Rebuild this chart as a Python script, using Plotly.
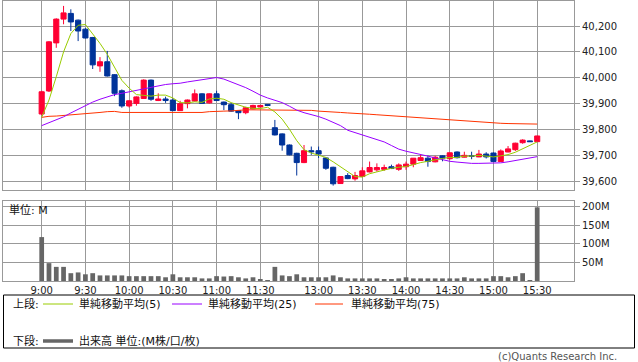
import plotly.graph_objects as go

# ---------------- data ----------------
times = [
    "9:00", "9:05", "9:10", "9:15", "9:20", "9:25", "9:30", "9:35", "9:40", "9:45",
    "9:50", "9:55", "10:00", "10:05", "10:10", "10:15", "10:20", "10:25", "10:30", "10:35",
    "10:40", "10:45", "10:50", "10:55", "11:00", "11:05", "11:10", "11:15", "11:20", "11:25",
    "11:30", "12:00",
    "12:30", "12:35", "12:40", "12:45", "12:50", "12:55", "13:00", "13:05", "13:10", "13:15",
    "13:20", "13:25", "13:30", "13:35", "13:40", "13:45", "13:50", "13:55", "14:00", "14:05",
    "14:10", "14:15", "14:20", "14:25", "14:30", "14:35", "14:40", "14:45", "14:50", "14:55",
    "15:00", "15:05", "15:10", "15:15", "15:20", "15:25", "15:30",
]

opens = [39860, 39949, 40135, 40227, 40249, 40223, 40188, 40156, 40046, 40062,
         40012, 39950, 39891, 39901, 39920, 39991, 39912, 39918, 39914, 39873,
         39900, 39910, 39938, 39903, 39938, 39906, 39896, 39873, 39865, 39880,
         39887, 39897,
         39807, 39783, 39740, 39708, 39672, 39718, 39718, 39690, 39654, 39591,
         39622, 39609, 39618, 39636, 39644, 39646, 39656, 39646, 39656, 39666,
         39680, 39689, 39675, 39698, 39687, 39713, 39693, 39698, 39694, 39705,
         39709, 39676, 39713, 39722, 39749, 39756, 39753]
highs = [39950, 40142, 40230, 40278, 40265, 40225, 40192, 40158, 40080, 40104,
         40014, 39955, 39913, 39928, 39994, 39993, 39940, 39927, 39920, 39911,
         39916, 39955, 39940, 39940, 39950, 39908, 39903, 39875, 39888, 39896,
         39895, 39898,
         39837, 39785, 39742, 39710, 39740, 39734, 39734, 39692, 39656, 39620,
         39631, 39636, 39654, 39676, 39669, 39664, 39664, 39669, 39676, 39689,
         39702, 39699, 39698, 39700, 39710, 39715, 39714, 39714, 39721, 39712,
         39711, 39723, 39736, 39749, 39762, 39757, 39776]
lows = [39855, 39945, 40116, 40207, 40181, 40142, 40152, 40034, 40023, 40005,
        39929, 39884, 39885, 39892, 39918, 39911, 39910, 39903, 39872, 39872,
        39882, 39908, 39899, 39900, 39910, 39875, 39869, 39840, 39859, 39878,
        39886, 39892,
        39777, 39718, 39700, 39622, 39670, 39702, 39690, 39644, 39583, 39590,
        39608, 39602, 39616, 39634, 39637, 39640, 39647, 39640, 39644, 39654,
        39679, 39656, 39673, 39677, 39683, 39688, 39692, 39685, 39693, 39688,
        39676, 39675, 39712, 39717, 39745, 39752, 39752]
closes = [39946, 40139, 40227, 40251, 40216, 40181, 40154, 40050, 40062, 40007,
          39940, 39891, 39911, 39926, 39991, 39917, 39918, 39912, 39873, 39900,
          39914, 39938, 39901, 39938, 39912, 39896, 39871, 39865, 39884, 39893,
          39893, 39893,
          39779, 39740, 39702, 39672, 39718, 39714, 39705, 39650, 39590, 39618,
          39610, 39622, 39640, 39653, 39653, 39653, 39649, 39663, 39666, 39689,
          39691, 39676, 39693, 39689, 39710, 39691, 39700, 39696, 39705, 39694,
          39676, 39717, 39725, 39747, 39759, 39753, 39775]

ma5 = [39847, 39914, 40004, 40100, 40171, 40203, 40206, 40170, 40133, 40091,
       40043, 39990, 39960, 39935, 39932, 39929, 39933, 39933, 39922, 39904,
       39903, 39907, 39905, 39918, 39921, 39917, 39904, 39896, 39886, 39882,
       39881, 39886,
       39868, 39840, 39801, 39757, 39722, 39709, 39702, 39692, 39675, 39655,
       39635, 39618, 39616, 39629, 39636, 39644, 39650, 39654, 39657, 39664,
       39672, 39677, 39683, 39688, 39692, 39692, 39697, 39697, 39700, 39697,
       39694, 39698, 39703, 39712, 39725, 39740, 39752]
ma25 = [39815, 39826, 39838, 39849, 39864, 39878, 39893, 39906, 39917, 39927,
        39935, 39940, 39945, 39950, 39957, 39963, 39969, 39974, 39977, 39979,
        39984, 39988, 39991, 39996, 40001, 39995, 39985, 39974, 39962, 39948,
        39933, 39922,
        39912, 39904, 39890, 39875, 39865, 39858, 39850, 39840, 39827, 39815,
        39797, 39788, 39780, 39771, 39762, 39752, 39738, 39724, 39716, 39710,
        39705, 39697, 39690, 39683, 39677, 39674, 39671, 39669, 39669, 39669,
        39669, 39671, 39675, 39680, 39686, 39691, 39695]
ma75 = [39847, 39851, 39852, 39854, 39856, 39858, 39860, 39864, 39866, 39869,
        39870, 39866, 39866, 39866, 39866, 39866, 39866, 39866, 39866, 39866,
        39866, 39866, 39866, 39869, 39871, 39871, 39872, 39875, 39876, 39876,
        39876, 39876,
        39876, 39876, 39876, 39874, 39874, 39874, 39871, 39870, 39867, 39866,
        39864, 39863, 39861, 39859, 39857, 39855, 39853, 39851, 39849, 39847,
        39845, 39842, 39841, 39839, 39836, 39834, 39832, 39831, 39829, 39827,
        39825, 39824, 39823, 39822, 39821, 39821, 39821]

volume_m = [118, 48, 38, 38, 21, 23, 18, 21, 15, 15,
            15, 15, 13, 13, 13, 13, 13, 10, 18, 10,
            10, 10, 7, 7, 13, 12, 13, 10, 7, 10,
            4, 0.5,
            38, 15, 13, 18, 10, 10, 10, 10, 15, 10,
            7, 7, 7, 7, 7, 4, 4, 7, 10, 7,
            7, 7, 7, 7, 7, 7, 10, 7, 7, 7,
            13, 13, 10, 13, 21, 1, 198]

tick_times = ["9:00", "9:30", "10:00", "10:30", "11:00", "11:30",
              "13:00", "13:30", "14:00", "14:30", "15:00", "15:30"]
price_ticks = [39600, 39700, 39800, 39900, 40000, 40100, 40200]
vol_ticks = [50, 100, 150, 200]
vol_tick_text = ["50M", "100M", "150M", "200M"]

legend_labels = ["単純移動平均(5)", "単純移動平均(25)", "単純移動平均(75)"]

# ---------------- style ----------------
RED = "#ff0033"
BLUE = "#003399"
C5, C25, C75 = "#99cc00", "#9900ff", "#ff3300"
VOLC = "#666666"
GRID = "#999999"
FONT = "DejaVu Sans, Noto Sans CJK JP"

W, H = 638, 362
L, R, T, B = 3, 64, 1, 81


def px(x):
    return (x - L) / (W - L - R)


def py(y):
    return (H - B - y) / (H - T - B)


fig = go.Figure()
fig.add_trace(go.Candlestick(
    x=times, open=opens, high=highs, low=lows, close=closes,
    increasing=dict(line=dict(color=RED, width=1), fillcolor=RED),
    decreasing=dict(line=dict(color=BLUE, width=1), fillcolor=BLUE),
    xaxis="x", yaxis="y", showlegend=False))
for vals, col in ((ma75, C75), (ma25, C25), (ma5, C5)):
    fig.add_trace(go.Scatter(x=times, y=vals, mode="lines",
                             line=dict(color=col, width=1),
                             xaxis="x", yaxis="y", showlegend=False))
fig.add_trace(go.Bar(x=times, y=volume_m, width=0.65,
                     marker=dict(color=VOLC, line=dict(width=0)),
                     xaxis="x2", yaxis="y2", showlegend=False))

xr = [-5.31, 73.05]
axis_common = dict(showgrid=True, gridcolor=GRID, gridwidth=1,
                   showline=True, mirror=True, linecolor=GRID, linewidth=1,
                   zeroline=False)
fig.update_layout(
    width=W, height=H,
    margin=dict(l=L, r=R, t=T, b=B, pad=0),
    paper_bgcolor="white", plot_bgcolor="white",
    font=dict(family=FONT, size=10, color="#222222"),
    showlegend=False,
    boxgap=0.3, boxgroupgap=0,
    xaxis=dict(domain=[0, 1], anchor="y", type="category", range=xr,
               tickvals=tick_times, showticklabels=False, ticks="",
               rangeslider=dict(visible=False), **axis_common),
    yaxis=dict(domain=[py(190), 1], anchor="x", range=[39566, 40297],
               side="right", tickvals=price_ticks, tickformat=",",
               ticks="outside", ticklen=5, tickcolor=GRID,
               tickfont=dict(size=10), **axis_common),
    xaxis2=dict(domain=[0, 1], anchor="y2", type="category", matches="x",
                range=xr, tickvals=tick_times, ticktext=tick_times, ticks="",
                tickfont=dict(size=10), **axis_common),
    yaxis2=dict(domain=[0, py(201)], anchor="x2", range=[0, 215],
                side="right", tickvals=vol_ticks, ticktext=vol_tick_text,
                ticks="outside", ticklen=5, tickcolor=GRID,
                tickfont=dict(size=10), **axis_common),
)

shapes = [
    dict(type="rect", xref="paper", yref="paper", x0=px(3.5), x1=px(634.5),
         y0=py(295), y1=py(348), line=dict(color="black", width=1)),
]
for (xa, xb), col in (((43, 73), C5), ((172, 202), C25), ((315, 343), C75)):
    shapes.append(dict(type="line", xref="paper", yref="paper", x0=px(xa), x1=px(xb),
                       y0=py(304), y1=py(304), line=dict(color=col, width=1)))
shapes.append(dict(type="line", xref="paper", yref="paper", x0=px(43), x1=px(73),
                   y0=py(341), y1=py(341), line=dict(color=VOLC, width=3.5)))
fig.update_layout(shapes=shapes)

ann = []


def add_text(text, x, y, anchor="left", size=11, color="#111111"):
    ann.append(dict(text=text, xref="paper", yref="paper", x=px(x), y=py(y),
                    xanchor=anchor, yanchor="middle", showarrow=False,
                    font=dict(family=FONT, size=size, color=color)))


add_text("上段:", 11, 304)
add_text(legend_labels[0], 77, 304)
add_text(legend_labels[1], 206, 304)
add_text(legend_labels[2], 349, 304)
add_text("下段:", 11, 341)
add_text("出来高 単位:(M株/口/枚)", 77, 341)
add_text("単位: M", 7, 210)
add_text("(c)Quants Research Inc.", 619, 356, anchor="right", size=10, color="#555555")
fig.update_layout(annotations=ann)

fig.write_html("out.html",
               config={"displayModeBar": False},
               post_script="document.body.style.margin='0px';document.body.style.overflow='hidden';")
